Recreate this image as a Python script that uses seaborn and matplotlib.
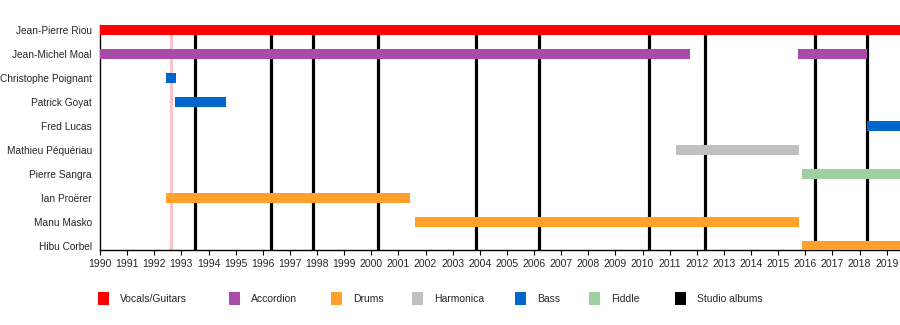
import matplotlib
matplotlib.use("Agg")
import matplotlib.pyplot as plt
import seaborn as sns
import pandas as pd
from matplotlib.patches import Rectangle

sns.set_theme(style="white")
plt.rcParams['font.family'] = ['Liberation Sans', 'DejaVu Sans']

END = 2019.49

members = ["Jean-Pierre Riou", "Jean-Michel Moal", "Christophe Poignant",
           "Patrick Goyat", "Fred Lucas", "Mathieu Péquériau", "Pierre Sangra",
           "Ian Proërer", "Manu Masko", "Hibu Corbel"]

span_member = ["Jean-Pierre Riou", "Jean-Michel Moal", "Jean-Michel Moal",
               "Christophe Poignant", "Patrick Goyat", "Fred Lucas",
               "Mathieu Péquériau", "Pierre Sangra", "Ian Proërer",
               "Manu Masko", "Hibu Corbel"]
span_start = [1990.0, 1990.0, 2015.74, 1992.45, 1992.78, 2018.26,
              2011.22, 2015.88, 1992.45, 2001.6, 2015.88]
span_end = [END, 2011.74, 2018.26, 1992.81, 1994.65, END,
            2015.76, END, 2001.41, 2015.76, END]
span_role = ["Vocals/Guitars", "Accordion", "Accordion", "Bass", "Bass", "Bass",
             "Harmonica", "Fiddle", "Drums", "Drums", "Drums"]

roles = ["Vocals/Guitars", "Accordion", "Drums", "Harmonica", "Bass", "Fiddle",
         "Studio albums"]
role_colors = ["#ff0000", "#a84ca8", "#ffa02b", "#c0c0c0", "#0066cc", "#a0d0a0",
               "#000000"]

albums = [1993.5, 1996.3, 1997.84, 2000.24, 2003.86, 2006.18, 2010.24,
          2012.31, 2016.37, 2018.26]
event_line = [1992.63]

years = list(range(1990, 2020))

df = pd.DataFrame({"member": span_member, "start": span_start,
                   "end": span_end, "role": span_role})
df["y"] = df["member"].map({m: i for i, m in enumerate(members)})
cmap = dict(zip(roles, role_colors))

fig = plt.figure(figsize=(9, 3.25), dpi=100)
ax = fig.add_axes([100/900, 1-250/325, 800/900, 225/325])

for x in event_line:
    ax.axvline(x, color="#f9c4ca", lw=2.4, zorder=1)
for x in albums:
    ax.axvline(x, color="black", lw=2.3, zorder=2)

ax.barh(df["y"], df["end"] - df["start"], left=df["start"], height=0.45,
        color=[cmap[r] for r in df["role"]], zorder=3, linewidth=0)

ax.set_xlim(1990, END)
ax.set_ylim(9.17, -0.21)
ax.set_yticks(range(len(members)))
ax.set_yticklabels(members, fontsize=7.3)
ax.set_xticks(years)
ax.set_xticklabels([str(y) for y in years], fontsize=7.5)
ax.tick_params(axis="x", length=3.6, width=0.8, color="black", pad=3, bottom=True)
ax.tick_params(axis="y", length=0, pad=5.8)
for s in ["top", "right"]:
    ax.spines[s].set_visible(False)
for s in ["left", "bottom"]:
    ax.spines[s].set_color("black")
    ax.spines[s].set_linewidth(1.0)
ax.grid(False)

legend_x = [98, 229, 331, 412, 515, 589, 675]
for xp, lab, col in zip(legend_x, roles, role_colors):
    fig.add_artist(Rectangle((xp/900, 1-305/325), 11/900, 13/325,
                             transform=fig.transFigure, color=col, lw=0))
    fig.text((xp+22)/900, 1-299/325, lab, fontsize=7.5, va="center", ha="left")

fig.savefig("out.png", dpi=100)
